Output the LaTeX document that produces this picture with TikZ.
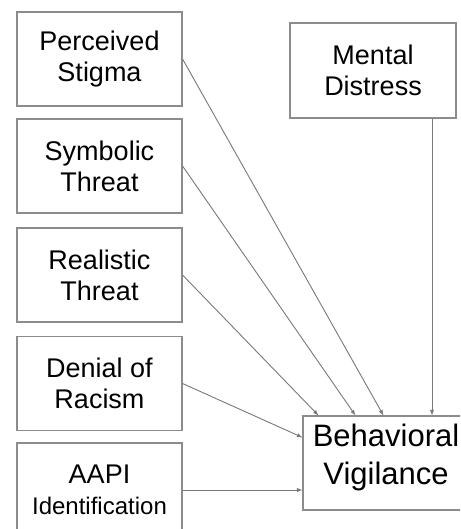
\documentclass[tikz,border=0pt]{standalone}
\usepackage{fontspec}
\setmainfont{Liberation Sans}
\usepackage{tikz}
\usetikzlibrary{positioning, arrows}

\definecolor{boxgray}{RGB}{140,140,140}
\definecolor{linegray}{RGB}{120,120,120}

\begin{document}
\begin{tikzpicture}[->,
					>=latex,
					x=1pt, y=-1pt,
					every edge/.style={draw=linegray, line width=0.9pt},
					factor/.style={draw=boxgray, line width=1.1pt, align=center,
						minimum width=165pt, minimum height=94pt, inner sep=0pt,
						font=\fontsize{27}{31}\selectfont},
					outcome/.style={factor, minimum width=166pt, text depth=18pt,
						font=\fontsize{31}{38}\selectfont}]

	\useasboundingbox (0,0) rectangle (460,529);
	\clip (0,0) rectangle (460,529);

	\node[factor] (ps) at (99.5,59)  {Perceived\\Stigma};
	\node[factor] (st) at (99.5,166) {Symbolic\\Threat};
	\node[factor] (rt) at (99.5,275) {Realistic\\Threat};
	\node[factor] (dr) at (99.5,383.5) {Denial of\\Racism};
	\node[factor] (aapi) at (99.5,490) {AAPI\\{\fontsize{24}{29}\selectfont Identification}};
	\node[factor, minimum width=166pt, minimum height=95pt] (md) at (373,70.5) {Mental\\Distress};
	\node[outcome] (bv) at (386,463) {Behavioral\\Vigilance};

	\path	(ps.east) edge ([xshift=81pt]bv.north west)
			(st.east) edge ([xshift=53pt]bv.north west)
			(rt.east) edge ([xshift=16pt]bv.north west)
			(dr.east) edge ([yshift=-22pt]bv.north west)
			(aapi.east) edge (aapi.east -| bv.west)
			([xshift=59pt]md.south) edge ([xshift=59pt]md.south |- bv.north)
;
\end{tikzpicture}
\end{document}
